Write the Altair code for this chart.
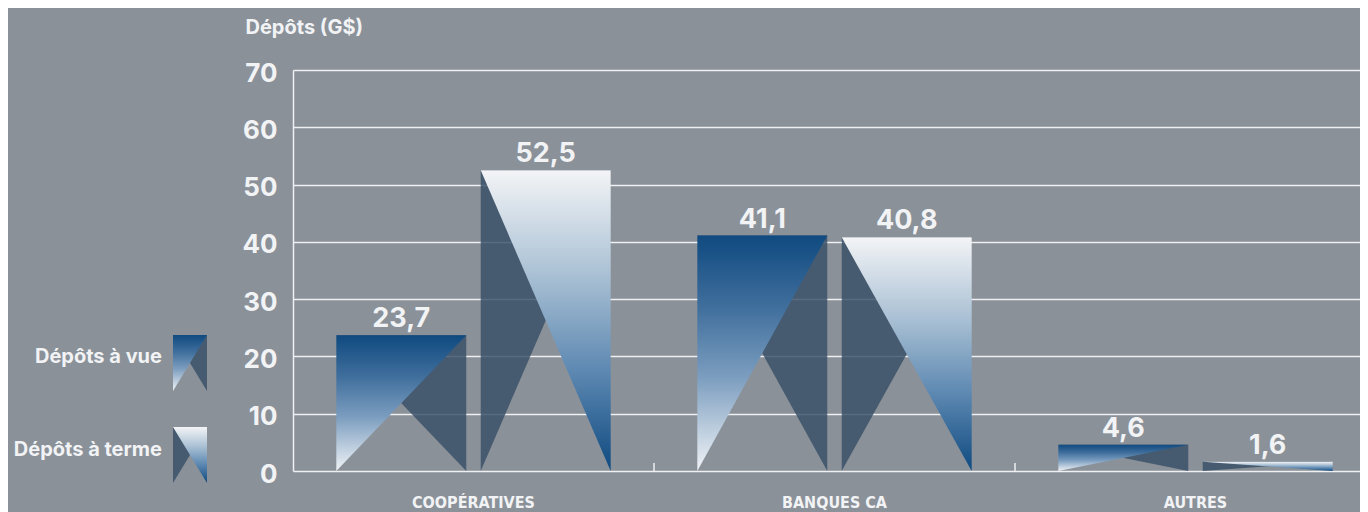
import altair as alt
import pandas as pd

# ---------------- data ----------------
categories = ["COOPÉRATIVES", "BANQUES CA", "AUTRES"]
series = ["Dépôts à vue", "Dépôts à terme"]
vue = [23.7, 41.1, 4.6]
terme = [52.5, 40.8, 1.6]
y_ticks = [0, 10, 20, 30, 40, 50, 60, 70]
y_title = "Dépôts (G$)"

# ---------------- style / layout ----------------
BG = "#8a9199"
DARK = "#374e67"
DARK_OP = 0.82
TXT = "#f2f3f5"
GRID = "#eef0f2"
FONT = "Inter"
NARROW = "'DejaVu Sans Condensed', 'Liberation Sans Narrow', Roboto, sans-serif"

W, H = 1067, 401
BAND_PX = 361
X_MIN = -0.5
X_MAX = X_MIN + W / BAND_PX
BAR_W = 0.36
GAP = 0.04

stops_dark_top = [
    alt.GradientStop(color="#0f4a80", offset=0),
    alt.GradientStop(color="#3f6e9c", offset=0.3),
    alt.GradientStop(color="#7b9dbf", offset=0.6),
    alt.GradientStop(color="#f0f3f6", offset=1),
]
stops_light_top = [
    alt.GradientStop(color="#f3f4f6", offset=0),
    alt.GradientStop(color="#a9c0d4", offset=0.35),
    alt.GradientStop(color="#5a86b0", offset=0.68),
    alt.GradientStop(color="#0f4a80", offset=1),
]
grad_vue = alt.Gradient(gradient="linear", x1=0, y1=0, x2=0, y2=1, stops=stops_dark_top)
grad_terme = alt.Gradient(gradient="linear", x1=0, y1=0, x2=0, y2=1, stops=stops_light_top)


def tri(rows, key, left, right, top, bottom, kind):
    # kind A: TL, TR, BL   kind B: TL, TR, BR
    if kind == "A":
        rows.append(dict(key=key, x=left, y=top, y2=bottom))
        rows.append(dict(key=key, x=right, y=top, y2=top))
    else:
        rows.append(dict(key=key, x=left, y=top, y2=top))
        rows.append(dict(key=key, x=right, y=top, y2=bottom))


dark_rows, gv_rows, gt_rows, lab_rows = [], [], [], []
for i, cat in enumerate(categories):
    lv, rv = i - GAP / 2 - BAR_W, i - GAP / 2
    lt, rt = i + GAP / 2, i + GAP / 2 + BAR_W
    tri(dark_rows, f"v{i}", lv, rv, vue[i], 0, "B")
    tri(gv_rows, f"v{i}", lv, rv, vue[i], 0, "A")
    tri(dark_rows, f"t{i}", lt, rt, terme[i], 0, "A")
    tri(gt_rows, f"t{i}", lt, rt, terme[i], 0, "B")
    lab_rows.append(dict(x=(lv + rv) / 2, y=vue[i], t=f"{vue[i]:.1f}".replace(".", ",")))
    lab_rows.append(dict(x=(lt + rt) / 2, y=terme[i], t=f"{terme[i]:.1f}".replace(".", ",")))

XS = alt.Scale(domain=[X_MIN, X_MAX], nice=False, zero=False)
YS = alt.Scale(domain=[0, 70], nice=False, zero=True)
YAX = alt.Axis(
    values=y_ticks, grid=True, gridColor=GRID, gridWidth=1.5, gridOpacity=1,
    domain=True, domainColor=GRID, domainWidth=1.5, ticks=False,
    labelFont=FONT, labelFontSize=26, labelFontWeight="bold", labelColor=TXT,
    labelPadding=16, labelOffset=3, labelBaseline="middle",
    title=y_title, titleX=-48, titleY=-43, titleAngle=0, titleAlign="left",
    titleBaseline="middle", titleFont=FONT, titleFontSize=20, titleFontWeight="bold",
    titleColor=TXT,
)


def area_layer(rows, **mk):
    return alt.Chart(pd.DataFrame(rows)).mark_area(orient="vertical", **mk).encode(
        x=alt.X("x:Q", scale=XS, axis=None),
        y=alt.Y("y:Q", scale=YS, axis=YAX, stack=False),
        y2="y2:Q",
        detail="key:N",
    )


dark_layer = area_layer(dark_rows, color=DARK, opacity=DARK_OP)
gv_layer = area_layer(gv_rows, color=grad_vue)
gt_layer = area_layer(gt_rows, color=grad_terme)

val_text = alt.Chart(pd.DataFrame(lab_rows)).mark_text(
    font=FONT, fontSize=27, fontWeight="bold", color=TXT, baseline="middle", dy=-16
).encode(
    x=alt.X("x:Q", scale=XS, axis=None),
    y=alt.Y("y:Q", scale=YS, axis=YAX),
    text="t:N",
)

sep_df = pd.DataFrame({"x": [i + 0.5 for i in range(len(categories) - 1)]})
seps = alt.Chart(sep_df).mark_rule(color=GRID, strokeWidth=1.5).encode(
    x=alt.X("x:Q", scale=XS, axis=None),
    y=alt.value(H),
    y2=alt.value(H - 8),
)

cat_df = pd.DataFrame({"x": list(range(len(categories))), "t": categories})
xlabels = alt.Chart(cat_df).mark_text(
    font=NARROW, fontSize=16, fontWeight="bold", color=TXT, baseline="middle"
).encode(
    x=alt.X("x:Q", scale=XS, axis=None),
    y=alt.value(H + 32),
    text="t:N",
)

main = alt.layer(dark_layer, gv_layer, gt_layer, val_text, seps, xlabels)

# ---------------- legend (pixel layout) ----------------
LX = alt.Scale(domain=[0, 1], range=[-120, -86])
LY = alt.Scale(domain=[0, 1000], range=[0, 1000])
ICON_TOP = [265, 357]
ICON_H = 56
LTXT_Y = [287, 380]

ld_rows, lgv_rows, lgt_rows = [], [], []
tri(ld_rows, "lv", 0, 1, ICON_TOP[0], ICON_TOP[0] + ICON_H, "B")
tri(lgv_rows, "lv", 0, 1, ICON_TOP[0], ICON_TOP[0] + ICON_H, "A")
tri(ld_rows, "lt", 0, 1, ICON_TOP[1], ICON_TOP[1] + ICON_H, "A")
tri(lgt_rows, "lt", 0, 1, ICON_TOP[1], ICON_TOP[1] + ICON_H, "B")


def leg_area(rows, **mk):
    return alt.Chart(pd.DataFrame(rows)).mark_area(orient="vertical", **mk).encode(
        x=alt.X("x:Q", scale=LX, axis=None),
        y=alt.Y("y:Q", scale=LY, axis=None, stack=False),
        y2="y2:Q",
        detail="key:N",
    )


leg_text = alt.Chart(pd.DataFrame({"t": series, "y": LTXT_Y})).mark_text(
    font=FONT, fontSize=20, fontWeight="bold", color=TXT, align="right", baseline="middle"
).encode(
    x=alt.value(-131),
    y=alt.Y("y:Q", scale=LY, axis=None),
    text="t:N",
)

legend = alt.layer(
    leg_area(ld_rows, color=DARK, opacity=DARK_OP),
    leg_area(lgv_rows, color=grad_vue),
    leg_area(lgt_rows, color=grad_terme),
    leg_text,
)

chart = alt.layer(main, legend).resolve_scale(
    x="independent", y="independent"
).properties(
    width=W,
    height=H,
    autosize=alt.AutoSizeParams(type="none"),
    padding={"left": 285, "top": 62, "right": 0, "bottom": 41},
    background=BG,
).configure_view(stroke=None)

chart.save("out.html", embed_options={"renderer": "svg", "actions": False})
